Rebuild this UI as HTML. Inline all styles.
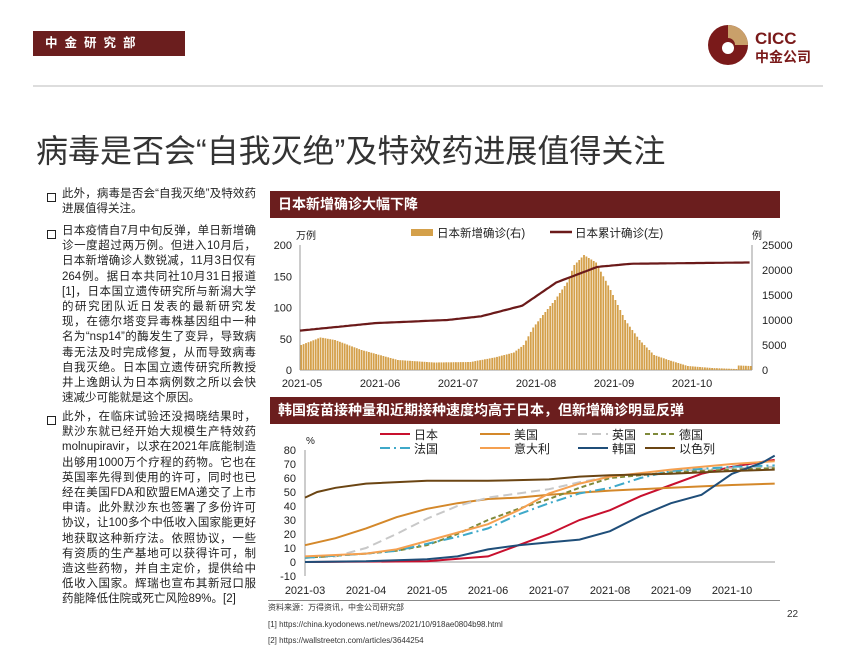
<!DOCTYPE html>
<html><head><meta charset="utf-8"><style>
body{margin:0;width:850px;height:656px;background:#fff;font-family:"Liberation Sans","Noto Sans CJK SC",sans-serif;position:relative;overflow:hidden}
.a{position:absolute}
.hdr{background:#6b1e1e;color:#fff;font-weight:bold}
.txt{font-size:11.5px;line-height:15.2px;color:#222;text-align:justify}
.bul{position:absolute;left:47px;width:7px;height:7px;border:1.3px solid #222}
</style></head><body>
<div class="a hdr" style="left:33px;top:31px;width:152px;height:25px;font-size:12.5px;line-height:25px;letter-spacing:7px;padding-left:12px;box-sizing:border-box">中金研究部</div>
<svg class="a" style="left:705px;top:22px" width="110" height="46">
<circle cx="23" cy="23" r="20" fill="#7a1a1a"/><path d="M23 3 A20 20 0 0 1 43 23 L30 23 A7 7 0 0 0 23 16Z" fill="#c9a06a"/><circle cx="23" cy="26" r="6" fill="#fff"/>
<text x="50" y="22" font-size="17" font-weight="bold" fill="#7a1a1a" font-family="Liberation Sans">CICC</text>
<text x="50" y="40" font-size="14" font-weight="bold" fill="#7a1a1a">中金公司</text></svg>
<div class="a" style="left:33px;top:85px;width:790px;height:2px;background:#ddd"></div>
<div class="a" style="left:36px;top:126px;font-size:32px;color:#333;white-space:nowrap">病毒是否会“自我灭绝”及特效药进展值得关注</div>

<div class="bul" style="top:193px"></div>
<div class="a txt" style="left:62px;top:187px;width:194px">此外，病毒是否会“自我灭绝”及特效药进展值得关注。</div>
<div class="bul" style="top:230px"></div>
<div class="a txt" style="left:62px;top:224px;width:194px">日本疫情自7月中旬反弹，单日新增确诊一度超过两万例。但进入10月后，日本新增确诊人数锐减，11月3日仅有264例。据日本共同社10月31日报道[1]，日本国立遗传研究所与新潟大学的研究团队近日发表的最新研究发现，在德尔塔变异毒株基因组中一种名为“nsp14”的酶发生了变异，导致病毒无法及时完成修复，从而导致病毒自我灭绝。日本国立遗传研究所教授井上逸朗认为日本病例数之所以会快速减少可能就是这个原因。</div>
<div class="bul" style="top:416px"></div>
<div class="a txt" style="left:62px;top:410px;width:194px">此外，在临床试验还没揭晓结果时，默沙东就已经开始大规模生产特效药molnupiravir，以求在2021年底能制造出够用1000万个疗程的药物。它也在英国率先得到使用的许可，同时也已经在美国FDA和欧盟EMA递交了上市申请。此外默沙东也签署了多份许可协议，让100多个中低收入国家能更好地获取这种新疗法。依照协议，一些有资质的生产基地可以获得许可，制造这些药物，并自主定价，提供给中低收入国家。辉瑞也宣布其新冠口服药能降低住院或死亡风险89%。[2]</div>

<div class="a hdr" style="left:270px;top:191px;width:510px;height:27px;font-size:14px;line-height:27px;padding-left:8px;box-sizing:border-box">日本新增确诊大幅下降</div>
<div class="a hdr" style="left:270px;top:397px;width:510px;height:27px;font-size:14px;line-height:27px;padding-left:8px;box-sizing:border-box">韩国疫苗接种量和近期接种速度均高于日本，但新增确诊明显反弹</div>

<svg class="a" style="left:0;top:0" width="850" height="656" id="s" font-family="Liberation Sans, Noto Sans CJK SC, sans-serif"></svg>

<div class="a" style="left:268px;top:600px;width:512px;height:1px;background:#888"></div>
<div class="a" style="left:268px;top:602px;font-size:8px;color:#333">资料来源：万得资讯，中金公司研究部</div>
<div class="a" style="left:268px;top:620px;font-size:8px;color:#333">[1] https://china.kyodonews.net/news/2021/10/918ae0804b98.html</div>
<div class="a" style="left:268px;top:636px;font-size:8px;color:#333">[2] https://wallstreetcn.com/articles/3644254</div>
<div class="a" style="left:787px;top:609px;font-size:10px;color:#333">22</div>
<script>
var s='';
function T(x,y,t,a,sz,c){s+='<text x="'+x+'" y="'+y+'" font-size="'+(sz||11)+'" fill="'+(c||'#222')+'" text-anchor="'+(a||'start')+'">'+t+'</text>';}
var X0=300,X1=752,Y0=370;
s+='<line x1="'+X0+'" y1="245" x2="'+X0+'" y2="370" stroke="#999"/><line x1="'+X1+'" y1="245" x2="'+X1+'" y2="370" stroke="#999"/><line x1="300" y1="370" x2="752" y2="370" stroke="#999"/>';
[0,50,100,150,200].forEach(function(v){T(292,Y0-v*0.625+4,v,'end');});
[0,5000,10000,15000,20000,25000].forEach(function(v){T(762,Y0-v*0.005+4,v);});
['2021-05','2021-06','2021-07','2021-08','2021-09','2021-10'].forEach(function(t,i){T(302+i*78,387,t,'middle');});
T(296,239,'万例','start',10);T(752,239,'例','start',10);
s+='<rect x="411" y="229" width="22" height="7" fill="#d4a04a"/>';T(437,237,'日本新增确诊(右)','start',11.5);
s+='<line x1="550" y1="232" x2="572" y2="232" stroke="#6b1a1a" stroke-width="2.5"/>';T(575,237,'日本累计确诊(左)','start',11.5);
function interp(p,x){for(var i=1;i<p.length;i++){if(x<=p[i][0]){var a=p[i-1],b=p[i];return a[1]+(b[1]-a[1])*(x-a[0])/(b[0]-a[0]);}}return p[p.length-1][1];}
var bars=[[0,5000],[8,6500],[14,6000],[25,4000],[40,2000],[55,1500],[70,1600],[80,2500],[88,3500],[92,5000],[96,8500],[100,11000],[105,14000],[110,17500],[113,21000],[117,23000],[122,21500],[128,16000],[134,10000],[140,6000],[146,3000],[152,2000],[160,800],[170,400],[180,200],[181,900],[186,800]];
var n=187,w=(X1-X0)/n;
for(var d=0;d<n;d++){var v=interp(bars,d);var h=v*0.005;s+='<rect x="'+(X0+d*w+0.3).toFixed(1)+'" y="'+(Y0-h).toFixed(1)+'" width="'+(w*0.75).toFixed(2)+'" height="'+h.toFixed(1)+'" fill="#d4a04a"/>';}
var cum=[[0,63],[31,75],[61,80],[75,86],[92,103],[106,140],[123,165],[137,170],[160,171],[186,172]];
var pts=[];for(d=0;d<n;d++)pts.push((X0+d*w).toFixed(1)+','+(Y0-interp(cum,d)*0.625).toFixed(1));
s+='<polyline points="'+pts.join(' ')+'" fill="none" stroke="#6b1a1a" stroke-width="2.2"/>';
function y2(v){return 562-1.4*v;}function x2(m){return 305+61*m;}
s+='<line x1="305" y1="450" x2="305" y2="576" stroke="#999"/><line x1="305" y1="562" x2="775" y2="562" stroke="#999"/>';
for(var v=-10;v<=80;v+=10)T(296,y2(v)+4,v,'end');
T(306,444,'%','start',10);
['2021-03','2021-04','2021-05','2021-06','2021-07','2021-08','2021-09','2021-10'].forEach(function(t,i){T(x2(i),594,t,'middle');});
var L=[
['日本','#c8102e','',[[0,0],[2,0.5],[3,4],[3.5,12],[4,20],[4.5,30],[5,37],[5.5,47],[6,55],[6.5,63],[7,68],[7.7,73]],380,438],
['美国','#d4882a','',[[0,12],[0.5,17],[1,24],[1.5,32],[2,38],[2.5,42],[3,45],[3.5,46],[4,48],[5,51],[6,53],[7,55],[7.7,56]],480,438],
['英国','#c8c8c8','9,5',[[0,3],[0.5,4],[1,10],[1.5,20],[2,31],[2.5,40],[3,46],[4,52],[4.5,57],[5,61],[6,65],[7,67],[7.7,68]],578,438],
['德国','#7f8a3a','5,3',[[0,3],[1,6],[1.5,8],[2,12],[2.5,20],[3,30],[3.5,38],[4,45],[4.5,53],[5,60],[6,64],[7,66],[7.7,67]],645,438],
['法国','#3fa9c9','10,4,2,4',[[0,3],[1,6],[1.5,8],[2,13],[2.5,18],[3,24],[3.5,34],[4,42],[4.5,49],[5,53],[5.5,60],[6,65],[7,68],[7.7,69]],380,452],
['意大利','#f5a050','',[[0,4],[1,6],[1.5,9],[2,15],[2.5,21],[3,27],[3.5,37],[4,49],[4.5,56],[5,61],[6,66],[7,70],[7.7,72]],480,452],
['韩国','#1f4e79','',[[0,0],[1,0.5],[2,2],[2.5,4],[3,9],[3.5,12],[4,14],[4.5,16],[5,22],[5.5,33],[6,42],[6.5,48],[7,63],[7.5,71],[7.7,76]],578,452],
['以色列','#6b4513','',[[0,46],[0.2,50],[0.5,53],[1,56],[2,58],[3,58],[4,59],[4.5,61],[5,62],[6,63],[7,65],[7.7,66]],645,452]];
L.forEach(function(l){var p=l[3].map(function(q){return x2(q[0]).toFixed(1)+','+y2(q[1]).toFixed(1);}).join(' ');
s+='<polyline points="'+p+'" fill="none" stroke="'+l[1]+'" stroke-width="2" '+(l[2]?'stroke-dasharray="'+l[2]+'"':'')+'/>';
s+='<line x1="'+l[4]+'" y1="'+(l[5]-4)+'" x2="'+(l[4]+30)+'" y2="'+(l[5]-4)+'" stroke="'+l[1]+'" stroke-width="2" '+(l[2]?'stroke-dasharray="'+l[2]+'"':'')+'/>';
T(l[4]+34,l[5]+1,l[0],'start',12);});
document.getElementById('s').innerHTML=s;
</script>
</body></html>
